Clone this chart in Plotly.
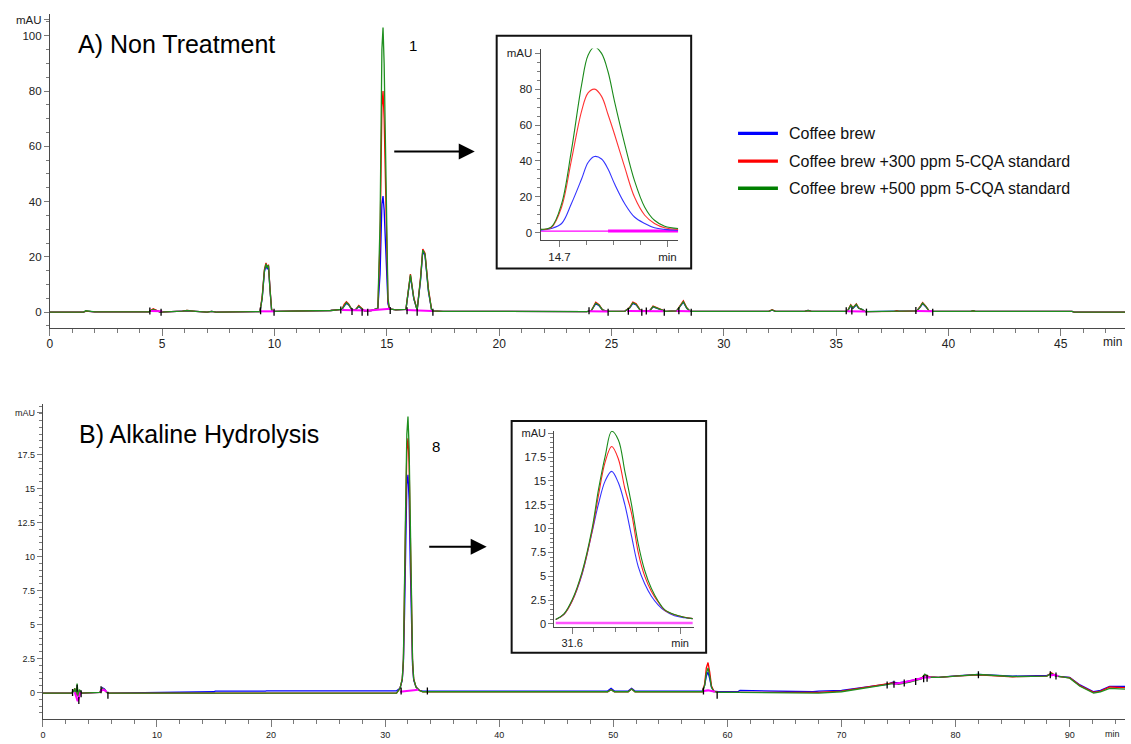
import plotly.graph_objects as go

W, H = 1131, 744

# ------------------------------------------------------------------
# Panel A : Non Treatment  (retention time in min, absorbance in mAU)
# ------------------------------------------------------------------
a_time = [0, 1.5, 1.6, 1.7, 2.0, 4.4, 4.6, 4.75, 4.9, 5.9,
          6.1, 6.5, 7.0, 7.2, 7.4, 9.35, 9.45, 9.55, 9.62, 9.68,
          9.73, 9.8, 9.87, 9.95, 12.5, 13.0, 13.1, 13.2, 13.3, 13.45,
          13.6, 13.75, 13.85, 14.0, 14.3, 14.6, 14.7, 14.78, 14.83, 14.88,
          14.95, 15.0, 15.05, 15.12, 15.4, 15.85, 15.95, 16.05, 16.2, 16.35,
          16.5, 16.6, 16.7, 16.85, 17.0, 17.5, 23.9, 24.1, 24.3, 24.45,
          24.6, 24.8, 25.6, 25.8, 25.95, 26.1, 26.3, 26.7, 26.85, 27.0,
          27.4, 27.9, 28.1, 28.2, 28.35, 28.5, 32.0, 32.15, 32.3, 33.6,
          33.75, 33.9, 35.5, 35.65, 35.75, 35.9, 36.0, 36.15, 36.3, 37.6,
          37.7, 37.8, 38.6, 38.75, 38.85, 39.0, 39.15, 41.0, 41.1, 41.2,
          45.5, 45.6, 47.86]
a_green = [0, 0, 0.5, 0.4, 0.1, 0.1, 1.0, 0.6, 0.0, 0.4,
           0.6, 0.3, 0.0, 0.3, 0.0, 0.2, 5, 15, 17.5, 16,
           17, 8, 0.8, 0.3, 0.6, 1.0, 2.5, 3.5, 2.8, 0.8,
           0.8, 2.2, 1.5, 0.5, 0.6, 1.5, 33, 95, 103, 90,
           55, 20, 5, 1.2, 0.8, 1.0, 8, 13.5, 5, 0.8,
           12, 22.5, 21, 8, 0.5, 0.3, 0.2, 0.5, 3.3, 2.5,
           0.8, 0.3, 0.4, 1.5, 3.4, 2.8, 0.5, 0.5, 2.0, 1.5,
           0.3, 0.5, 2.5, 3.8, 1.5, 0.3, 0.3, 0.8, 0.3, 0.3,
           0.6, 0.3, 0.3, 2.5, 1.5, 2.8, 1.5, 1.0, 0.2, 0.3,
           0.5, 0.3, 0.5, 2.0, 3.3, 2.0, 0.3, 0.3, 0.5, 0.3,
           0.3, 0.0, 0.0]
a_red = [0, 0, 0.4, 0.3, 0.1, 0.1, 1.2, 0.7, 0.0, 0.4,
         0.6, 0.3, 0.0, 0.3, 0.0, 0.2, 5.5, 15.5, 17.8, 16.2,
         17.2, 8.5, 1.0, 0.3, 0.6, 1.0, 2.8, 3.8, 3.0, 0.8,
         0.8, 2.4, 1.6, 0.5, 0.6, 1.4, 26, 74, 80, 70,
         43, 16, 4, 1.2, 0.8, 1.0, 8.5, 13.8, 5.2, 0.8,
         12.5, 22.8, 21.3, 8.5, 0.5, 0.3, 0.2, 0.5, 3.6, 2.7,
         0.8, 0.3, 0.4, 1.6, 3.6, 3.0, 0.5, 0.5, 2.2, 1.6,
         0.3, 0.5, 2.7, 4.1, 1.6, 0.3, 0.3, 0.9, 0.3, 0.3,
         0.6, 0.3, 0.3, 2.7, 1.6, 3.0, 1.6, 1.0, 0.2, 0.3,
         0.5, 0.3, 0.5, 2.2, 3.5, 2.1, 0.3, 0.3, 0.5, 0.3,
         0.3, 0.0, 0.0]
a_blue = [0, 0, 0.4, 0.3, 0.1, 0.1, 1.0, 0.6, 0.0, 0.4,
          0.5, 0.3, 0.0, 0.3, 0.0, 0.2, 5, 14.5, 17, 15.5,
          16.8, 8, 0.8, 0.3, 0.6, 1.0, 2.4, 3.3, 2.6, 0.8,
          0.8, 2.0, 1.4, 0.5, 0.6, 1.2, 14, 39, 42, 37,
          23, 9, 3, 1.2, 0.8, 1.0, 7.5, 13, 4.8, 0.8,
          11.5, 22, 20.5, 7.5, 0.5, 0.3, 0.2, 0.5, 3.1, 2.3,
          0.8, 0.3, 0.4, 1.4, 3.2, 2.6, 0.5, 0.5, 1.9, 1.4,
          0.3, 0.5, 2.4, 3.6, 1.4, 0.3, 0.3, 0.7, 0.3, 0.3,
          0.6, 0.3, 0.3, 2.3, 1.4, 2.6, 1.4, 1.0, 0.2, 0.3,
          0.5, 0.3, 0.5, 1.9, 3.1, 1.9, 0.3, 0.3, 0.5, 0.3,
          0.3, 0.0, 0.0]
# integration baselines (magenta) and peak start/end markers (black)
a_base_t = [4.5, 5.0, None, 9.35, 10.0, None, 13.0, 13.9, 14.2, 15.15, None,
            15.85, 16.4, 17.0, None, 24.0, 24.85, None, 25.7, 26.4, 27.3, None,
            27.9, 28.5, None, 35.5, 36.3, None, 38.6, 39.3]
a_base_v = [0.4, 0.3, None, 0.3, 0.3, None, 0.8, 0.5, 0.6, 1.2, None,
            0.8, 0.6, 0.4, None, 0.3, 0.2, None, 0.4, 0.4, 0.3, None,
            0.4, 0.3, None, 0.3, 0.2, None, 0.4, 0.3]
a_mark_t = [4.45, 4.95, 9.38, 9.98, 12.95, 13.45, 13.9, 14.15, 15.15, 15.9,
            16.35, 17.05, 24.0, 24.85, 25.75, 26.35, 26.55, 27.35, 28.0, 28.55,
            35.45, 35.7, 36.35, 38.55, 39.3]
a_mark_v = [0.4, 0.0, 0.5, 0.0, 0.8, 0.2, 0.0, 0.0, 0.6, 0.5,
            0.0, 0.0, 0.5, 0.0, 0.3, 0.0, 0.4, 0.0, 0.5, 0.0,
            0.5, 0.4, 0.0, 0.6, 0.0]

# Inset A (zoom of peak 1)
ia_time = [14.665, 14.685, 14.704, 14.722, 14.741, 14.753, 14.765, 14.778,
           14.790, 14.802, 14.821, 14.839, 14.858, 14.876, 14.895, 14.920]
ia_green = [1.9, 3.3, 16.2, 45.6, 82.4, 98.9, 103.5, 99.9,
            89.7, 73.2, 49.3, 29.1, 14.3, 7.0, 3.7, 2.4]
ia_red = [1.9, 3.0, 14.4, 40.2, 67.8, 77.9, 80.0, 76.0,
          65.9, 54.9, 36.4, 19.9, 9.8, 5.2, 2.8, 1.9]
ia_blue = [1.5, 2.4, 5.2, 16.2, 30.0, 39.2, 42.5, 41.1,
           35.5, 27.3, 16.2, 8.8, 5.2, 2.8, 1.9, 1.5]
ia_base_thin_t = [14.665, 14.79]
ia_base_thick_t = [14.79, 14.92]
ia_base_v = [1.0, 1.0]

# ------------------------------------------------------------------
# Panel B : Alkaline Hydrolysis
# ------------------------------------------------------------------
b_time = [0, 2.5, 2.7, 2.8, 2.9, 3.0, 3.1, 3.2, 3.4, 5.0,
          5.2, 5.4, 5.6, 5.8, 15.0, 15.1, 19.5, 19.6, 31.0, 31.3,
          31.5, 31.6, 31.7, 31.8, 31.9, 32.0, 32.1, 32.2, 32.3, 32.4,
          32.5, 32.7, 33.0, 33.3, 49.5, 49.8, 50.1, 51.3, 51.6, 51.9,
          57.8, 58.0, 58.15, 58.3, 58.45, 58.6, 58.8, 59.2, 60.9, 61.1,
          67.5, 68.0, 70.0, 72.0, 74.0, 74.5, 75.0, 76.0, 77.0, 77.3,
          77.7, 78.5, 80.0, 82.0, 85.0, 88.0, 88.4, 88.8, 89.5, 90.0,
          90.9, 91.5, 92.1, 92.7, 93.5, 94.85]
b_green = [-0.05, -0.05, 0.1, 0.3, -0.2, 0.65, -0.3, 0.2, -0.05, 0.0,
           0.3, 0.2, 0.0, -0.05, -0.05, -0.05, -0.05, -0.05, -0.05, 0.3,
           1.0, 2.5, 7.0, 14, 19, 20.3, 18, 12, 6, 2.5,
           1.0, 0.4, 0.15, 0.05, 0.05, 0.2, 0.05, 0.05, 0.25, 0.05,
           0.05, 0.5, 1.4, 1.8, 1.2, 0.4, 0.05, 0.0, 0.0, 0.0,
           -0.05, -0.05, 0.05, 0.3, 0.55, 0.65, 0.6, 0.75, 1.0, 1.35,
           1.1, 1.1, 1.2, 1.32, 1.17, 1.2, 1.4, 1.2, 1.12, 1.05,
           0.45, 0.2, -0.05, 0.05, 0.3, 0.25]
b_red = [-0.05, -0.05, 0.1, 0.3, -0.2, 0.4, -0.3, 0.1, -0.05, 0.0,
         0.3, 0.2, 0.0, -0.05, -0.05, -0.05, -0.05, -0.05, -0.05, 0.3,
         1.0, 2.4, 6.6, 13, 17.8, 18.7, 16.8, 11.2, 5.6, 2.3,
         1.0, 0.4, 0.15, 0.05, 0.05, 0.2, 0.05, 0.05, 0.25, 0.05,
         0.05, 0.6, 1.8, 2.2, 1.5, 0.5, 0.1, 0.0, 0.0, 0.0,
         0.0, 0.0, 0.1, 0.35, 0.6, 0.7, 0.65, 0.8, 1.05, 1.3,
         1.15, 1.1, 1.2, 1.3, 1.15, 1.2, 1.45, 1.2, 1.12, 1.08,
         0.5, 0.25, 0.0, 0.1, 0.4, 0.35]
b_blue = [-0.05, -0.05, 0.1, 0.2, -0.2, 0.3, -0.3, 0.1, -0.05, 0.0,
          0.35, 0.25, 0.0, -0.05, 0.05, 0.1, 0.1, 0.12, 0.12, 0.3,
          0.9, 2.2, 5.8, 11.5, 15.3, 16.0, 14.2, 9.5, 4.6, 2.0,
          0.9, 0.4, 0.15, 0.1, 0.1, 0.3, 0.1, 0.1, 0.3, 0.1,
          0.1, 0.5, 1.2, 1.5, 1.0, 0.4, 0.1, 0.05, 0.05, 0.15,
          0.05, 0.1, 0.15, 0.4, 0.6, 0.75, 0.7, 0.85, 1.05, 1.25,
          1.15, 1.1, 1.22, 1.32, 1.2, 1.25, 1.35, 1.2, 1.12, 1.1,
          0.55, 0.3, 0.05, 0.15, 0.45, 0.45]
b_base_t = [2.8, 2.95, 3.05, 3.15, 3.3, None, 5.0, 5.3, 5.6, None,
            31.3, 32.0, 32.9, None, 57.9, 58.3, 58.9, None,
            74.5, 75.5, 77.3, 77.8, None, 88.3, 88.7, 89.0]
b_base_v = [0.0, -0.4, -0.65, -0.4, 0.0, None, 0.1, 0.2, 0.05, None,
            0.05, 0.1, 0.2, None, 0.1, 0.15, 0.05, None,
            0.6, 0.75, 1.1, 1.1, None, 1.25, 1.3, 1.2]
b_mark_t = [2.6, 3.0, 3.15, 3.35, 5.1, 5.7, 31.4, 33.7, 57.9, 59.1,
            74.0, 74.6, 75.5, 76.5, 77.2, 77.5, 82.0, 88.3, 88.8]
b_mark_v = [0.0, 0.3, -0.6, -0.1, 0.2, -0.2, 0.1, 0.1, 0.1, -0.2,
            0.55, 0.6, 0.7, 0.8, 1.0, 1.05, 1.3, 1.3, 1.2]

# Inset B (zoom of peak 8)
ib_time = [31.524, 31.562, 31.600, 31.646, 31.692, 31.722, 31.753, 31.783,
           31.814, 31.844, 31.875, 31.906, 31.936, 31.967, 31.998, 32.028,
           32.074, 32.120, 32.158]
ib_green = [0.45, 1.04, 2.52, 5.46, 9.96, 14.1, 17.6, 20.2,
            19.3, 16.0, 12.5, 8.4, 5.6, 3.7, 2.4, 1.5,
            0.97, 0.69, 0.55]
ib_red = [0.45, 1.0, 2.4, 5.3, 9.7, 13.5, 17.0, 18.6,
          17.3, 14.2, 11.6, 7.5, 5.0, 3.4, 2.3, 1.45,
          0.95, 0.69, 0.55]
ib_blue = [0.45, 1.0, 2.4, 5.2, 9.6, 12.6, 15.0, 16.0,
           14.8, 12.5, 9.2, 6.0, 4.2, 2.9, 2.0, 1.4,
           0.85, 0.65, 0.55]
ib_base_t = [31.524, 32.158]
ib_base_v = [0.1, 0.1]

# axis tick definitions
a_xticks = [0, 5, 10, 15, 20, 25, 30, 35, 40, 45]
a_yticks = [0, 20, 40, 60, 80, 100, 105.7]
a_ylabels = ["0", "20", "40", "60", "80", "100", "mAU"]
b_xticks = [0, 10, 20, 30, 40, 50, 60, 70, 80, 90]
b_yticks = [0, 2.5, 5, 7.5, 10, 12.5, 15, 17.5, 20.6]
b_ylabels = ["0", "2.5", "5", "7.5", "10", "12.5", "15", "17.5", "mAU"]
ia_xticks, ia_xlabels = [14.7, 14.9], ["14.7", "min"]
ia_yticks = [0, 20, 40, 60, 80, 100]
ia_ylabels = ["0", "20", "40", "60", "80", "mAU"]
ib_xticks, ib_xlabels = [31.6, 32.1], ["31.6", "min"]
ib_yticks = [0, 2.5, 5, 7.5, 10, 12.5, 15, 17.5, 20]
ib_ylabels = ["0", "2.5", "5", "7.5", "10", "12.5", "15", "17.5", "mAU"]

series_names = ["Coffee brew", "Coffee brew +300 ppm 5-CQA standard",
                "Coffee brew +500 ppm 5-CQA standard"]
series_colors = ["#0000ff", "#ff0000", "#008000"]

for arr in (a_green, a_red, a_blue):
    assert len(arr) == len(a_time)
for arr in (b_green, b_red, b_blue):
    assert len(arr) == len(b_time)


def px(x):
    return x / W


def py(y):
    return 1 - y / H


FONT = "Liberation Sans, Arial, sans-serif"
AXC = "#4a4a4a"
TKC = "#7a7a7a"
LBC = "#222222"

fig = go.Figure()


def add_series(t, ys, xa, ya, width, shape="linear", dash_colors=series_colors):
    for name, col, y in zip(series_names, dash_colors, ys):
        fig.add_trace(go.Scatter(x=t, y=y, mode="lines", name=name,
                                 line=dict(color=col, width=width, shape=shape),
                                 xaxis=xa, yaxis=ya, showlegend=False,
                                 hoverinfo="skip"))


# Panel A main
add_series(a_time, [a_blue, a_red, a_green], "x", "y", 1.3,
           dash_colors=["#0000ff", "#ff0000", "#1f8f1f"])
fig.add_trace(go.Scatter(x=a_base_t, y=a_base_v, mode="lines", connectgaps=False,
                         line=dict(color="#ff00ff", width=2), xaxis="x", yaxis="y",
                         showlegend=False, hoverinfo="skip"))
fig.add_trace(go.Scatter(x=a_mark_t, y=a_mark_v, mode="markers",
                         marker=dict(symbol="line-ns", size=5,
                                     line=dict(color="black", width=1.3)),
                         xaxis="x", yaxis="y", showlegend=False, hoverinfo="skip"))

# Panel B main
add_series(b_time, [b_blue, b_red, b_green], "x2", "y2", 1.3,
           dash_colors=["#0000ff", "#ff0000", "#1f8f1f"])
fig.add_trace(go.Scatter(x=b_base_t, y=b_base_v, mode="lines", connectgaps=False,
                         line=dict(color="#ff00ff", width=2), xaxis="x2", yaxis="y2",
                         showlegend=False, hoverinfo="skip"))
fig.add_trace(go.Scatter(x=b_mark_t, y=b_mark_v, mode="markers",
                         marker=dict(symbol="line-ns", size=5,
                                     line=dict(color="black", width=1.3)),
                         xaxis="x2", yaxis="y2", showlegend=False, hoverinfo="skip"))

# Inset A
fig.add_trace(go.Scatter(x=ia_base_thin_t, y=ia_base_v, mode="lines",
                         line=dict(color="#ff00ff", width=1.2), xaxis="x3", yaxis="y3",
                         showlegend=False, hoverinfo="skip"))
fig.add_trace(go.Scatter(x=ia_base_thick_t, y=ia_base_v, mode="lines",
                         line=dict(color="#ff00ff", width=3), xaxis="x3", yaxis="y3",
                         showlegend=False, hoverinfo="skip"))
add_series(ia_time, [ia_blue, ia_red, ia_green], "x3", "y3", 1.1, shape="spline",
           dash_colors=["#3333ff", "#ff3333", "#1a8a1a"])

# Inset B
fig.add_trace(go.Scatter(x=ib_base_t, y=ib_base_v, mode="lines",
                         line=dict(color="#ff55ff", width=2.5), xaxis="x4", yaxis="y4",
                         showlegend=False, hoverinfo="skip"))
add_series(ib_time, [ib_blue, ib_red, ib_green], "x4", "y4", 1.1, shape="spline",
           dash_colors=["#3333ff", "#ff2222", "#1a8a1a"])


def axis(domain, anchor, rng, tickvals, ticktext, size, minor_dtick, tl=7, mtl=4,
         standoff=0):
    return dict(domain=domain, anchor=anchor, range=rng, showline=True, linecolor=AXC,
                linewidth=1, ticks="outside", ticklen=tl, tickwidth=1, tickcolor=TKC,
                tickmode="array", tickvals=tickvals, ticktext=ticktext,
                ticklabelstandoff=standoff,
                tickfont=dict(family=FONT, size=size, color=LBC),
                minor=dict(tickmode="linear", tick0=0, dtick=minor_dtick, ticklen=mtl,
                           tickwidth=1, tickcolor=TKC, ticks="outside", showgrid=False),
                showgrid=False, zeroline=False, fixedrange=True)


fig.update_layout(
    width=W, height=H, margin=dict(l=0, r=0, t=0, b=0),
    paper_bgcolor="white", plot_bgcolor="rgba(0,0,0,0)", showlegend=False,
    font=dict(family=FONT, color=LBC),
    xaxis=axis([px(47), px(1125)], "y", [0, 47.86], a_xticks,
               [str(v) for v in a_xticks], 12, 1, tl=7, mtl=4, standoff=-2),
    yaxis=axis([py(327), py(10)], "x", [-5.7, 107.9], a_yticks, a_ylabels, 11.5, 5,
               tl=5, mtl=3),
    xaxis2=axis([px(40), px(1125)], "y2", [0, 94.85], b_xticks,
                [str(v) for v in b_xticks], 9, 2, tl=7, mtl=4),
    yaxis2=axis([py(722), py(404)], "x2", [-1.97, 21.2], b_yticks, b_ylabels, 9, 0.5,
                tl=5, mtl=3),
    xaxis3=axis([px(539), px(677)], "y3", [14.665, 14.92], ia_xticks, ia_xlabels,
                11.5, 0.05, tl=6, mtl=4),
    yaxis3=axis([py(238), py(45)], "x3", [-3.86, 102.6], ia_yticks, ia_ylabels, 11.5, 5,
                tl=5, mtl=3),
    xaxis4=axis([px(552.7), px(693)], "y4", [31.517, 32.165], ib_xticks, ib_xlabels,
                11, 0.1, tl=6, mtl=4),
    yaxis4=axis([py(629), py(430.7)], "x4", [-0.34, 20.27], ib_yticks, ib_ylabels,
                11, 0.5, tl=5, mtl=3),
)

shapes = [
    dict(type="rect", xref="paper", yref="paper", x0=px(495), x1=px(690),
         y0=py(267), y1=py(32), line=dict(color="#111", width=2), layer="below",
         fillcolor="white"),
    dict(type="rect", xref="paper", yref="paper", x0=px(510), x1=px(705),
         y0=py(655), y1=py(421), line=dict(color="#111", width=2), layer="below",
         fillcolor="white"),
]
leg_y = [130.7, 158.7, 186]
for col, yy in zip(series_colors, leg_y):
    shapes.append(dict(type="line", xref="paper", yref="paper", x0=px(737), x1=px(777),
                       y0=py(yy), y1=py(yy), line=dict(color=col, width=3.3)))
fig.update_layout(shapes=shapes)

ann = [
    dict(text="A) Non Treatment", x=px(73), y=py(40), xanchor="left", yanchor="middle",
         font=dict(size=25, family=FONT, color="black")),
    dict(text="B) Alkaline Hydrolysis", x=px(74), y=py(434), xanchor="left",
         yanchor="middle", font=dict(size=25, family=FONT, color="black")),
    dict(text="1", x=px(411), y=py(42), xanchor="center", yanchor="middle",
         font=dict(size=15, family=FONT, color="black")),
    dict(text="8", x=px(434), y=py(447), xanchor="center", yanchor="middle",
         font=dict(size=15, family=FONT, color="black")),
    dict(text="min", x=px(1112), y=py(341), xanchor="center", yanchor="middle",
         font=dict(size=12, family=FONT, color=LBC)),
    dict(text="min", x=px(1112), y=py(737), xanchor="center", yanchor="middle",
         font=dict(size=9, family=FONT, color=LBC)),
    dict(text="", x=px(473), y=py(149), ax=-82, ay=0, showarrow=True, arrowhead=2,
         arrowsize=1.6, arrowwidth=2, arrowcolor="black", standoff=0),
    dict(text="", x=px(485), y=py(548), ax=-59, ay=0, showarrow=True, arrowhead=2,
         arrowsize=1.6, arrowwidth=2, arrowcolor="black", standoff=0),
]
for name, yy in zip(series_names, leg_y):
    ann.append(dict(text=name, x=px(786), y=py(yy), xanchor="left", yanchor="middle",
                    font=dict(size=16, family=FONT, color="#111")))
for a in ann:
    a.setdefault("showarrow", False)
    a["xref"] = "paper"
    a["yref"] = "paper"
fig.update_layout(annotations=ann)

fig.write_html("out.html", config={"displayModeBar": False})
